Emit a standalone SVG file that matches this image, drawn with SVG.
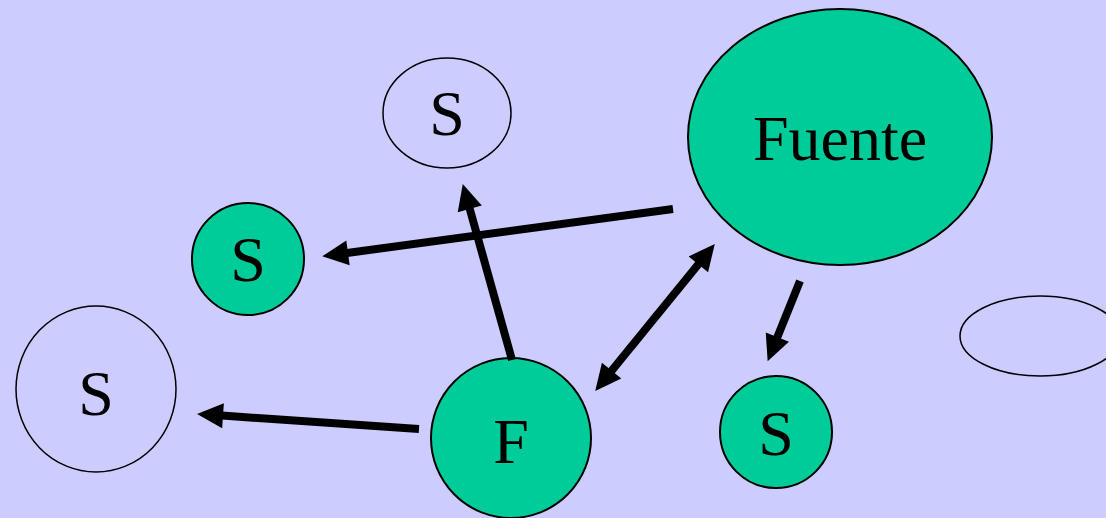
<svg xmlns="http://www.w3.org/2000/svg" width="1106" height="518" viewBox="0 0 1106 518">
<style>
.bg{fill:#CCCCFF}
.g{fill:#00CC99;stroke:#000;stroke-width:2}
.w{fill:none;stroke:#000;stroke-width:1.5}
.t{font-family:"Liberation Serif","Times New Roman",serif;font-size:64px;fill:#000;text-anchor:middle}
.a{stroke:#000;stroke-width:8;fill:none}
</style>
<defs>
<marker id="ah" markerUnits="userSpaceOnUse" markerWidth="28" markerHeight="28" refX="0" refY="0" orient="auto-start-reverse" overflow="visible">
<path d="M-1,-12.5 L25,0 L-1,12.5 Z" fill="#000"/>
</marker>
</defs>
<rect class="bg" x="0" y="0" width="1106" height="518"/>
<g id="node-s-top"><ellipse class="w" cx="447" cy="113" rx="64" ry="55"/><text class="t" x="447" y="135">S</text></g>
<g id="node-fuente"><ellipse class="g" cx="840" cy="137" rx="152" ry="128"/><text class="t" x="840" y="160">Fuente</text></g>
<g id="node-s-green-left"><circle class="g" cx="248" cy="259" r="56"/><text class="t" x="248" y="281">S</text></g>
<g id="node-s-white-left"><ellipse class="w" cx="96" cy="389" rx="80" ry="83"/><text class="t" x="96" y="415">S</text></g>
<g id="node-f"><circle class="g" cx="511" cy="438" r="80"/><text class="t" x="511" y="463">F</text></g>
<g id="node-s-green-right"><circle class="g" cx="776" cy="432" r="56"/><text class="t" x="776" y="455">S</text></g>
<g id="node-empty"><ellipse class="w" cx="1040" cy="336" rx="80" ry="40"/></g>
<g id="connectors">
<line class="a" x1="673" y1="209" x2="347" y2="253" marker-end="url(#ah)"/>
<line class="a" x1="512" y1="360" x2="469.5" y2="208" marker-end="url(#ah)"/>
<line class="a" x1="611" y1="371.5" x2="699" y2="263.5" marker-start="url(#ah)" marker-end="url(#ah)"/>
<line class="a" x1="800" y1="281" x2="777" y2="338" marker-end="url(#ah)"/>
<line class="a" x1="419" y1="429" x2="222" y2="415.6" marker-end="url(#ah)"/>
</g>
</svg>
